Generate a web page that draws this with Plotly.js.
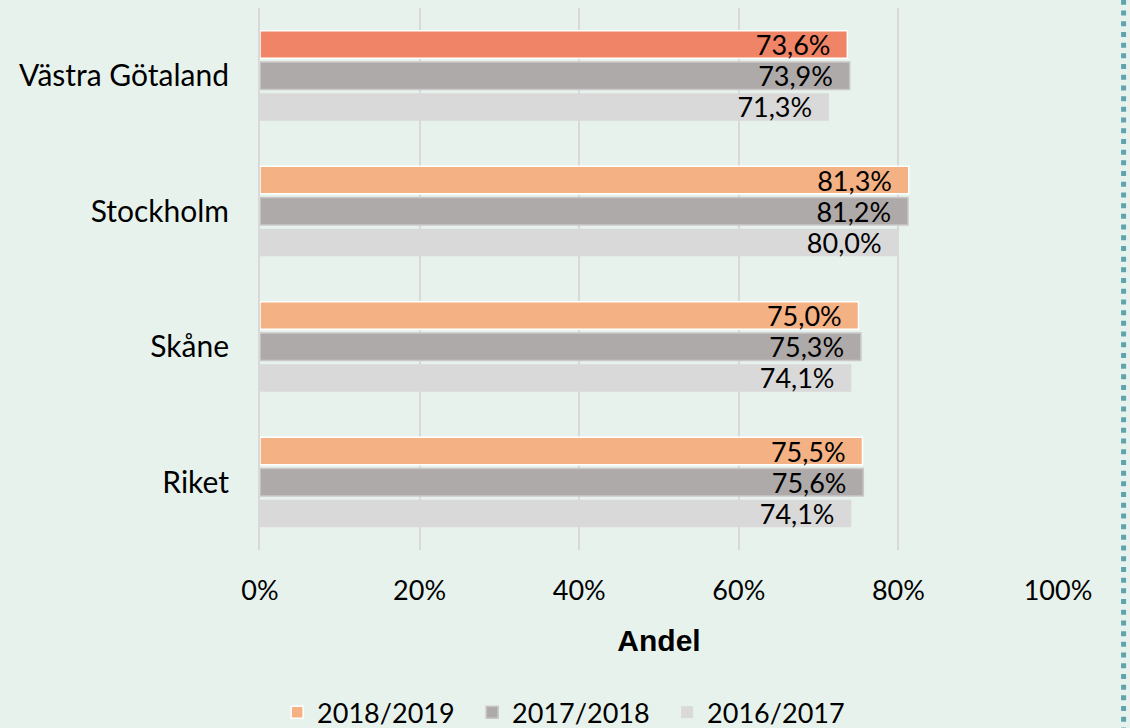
<!DOCTYPE html>
<html><head><meta charset="utf-8">
<script src="https://cdn.plot.ly/plotly-3.0.1.min.js"></script>
<style>html,body{margin:0;padding:0;background:#e8f2ed;}#chart{width:1130px;height:728px;}</style>
</head><body><div id="chart"></div>
<script>
const categories = ['Riket', 'Skåne', 'Stockholm', 'Västra Götaland'];
const s2016 = [74.1, 74.1, 80.0, 71.3];
const s2017 = [75.6, 75.3, 81.2, 73.9];
const s2018 = [75.5, 75.0, 81.3, 73.6];
const seriesNames = ['2016/2017', '2017/2018', '2018/2019'];
const xTicks = [0, 20, 40, 60, 80, 100];
const xTickText = xTicks.map(v => v + '%');

const labelFont = {family: 'Lato, sans-serif', size: 27, color: '#000'};
const common = {type: 'bar', orientation: 'h', y: categories, textposition: 'inside',
  insidetextanchor: 'end', texttemplate: '%{x:.1f}%  ', constraintext: 'none',
  textfont: labelFont, hoverinfo: 'skip'};

const traces = [
  Object.assign({}, common, {name: seriesNames[0], x: s2016,
    marker: {color: '#d9d9d9', line: {color: '#d9d9d9', width: 0}}}),
  Object.assign({}, common, {name: seriesNames[1], x: s2017,
    marker: {color: '#aeaaaa', line: {color: '#c9c7c7', width: 1.5}}}),
  Object.assign({}, common, {name: seriesNames[2], x: s2018,
    marker: {color: ['#f4b183', '#f4b183', '#f4b183', '#f08466'], line: {color: '#ffffff', width: 1.5}}})
];

const layout = {
  width: 1130, height: 728,
  paper_bgcolor: '#e8f2ed', plot_bgcolor: '#e8f2ed',
  margin: {l: 260, r: 72, t: 8, b: 178, autoexpand: false},
  separators: ', ',
  barmode: 'group', bargap: 0.31, bargroupgap: 0.12,
  font: {family: 'Lato, sans-serif', size: 27, color: '#000'},
  xaxis: {range: [0, 100], tickmode: 'array', tickvals: xTicks, ticktext: xTickText, showgrid: true,
    gridcolor: '#d9d9d9', gridwidth: 2, zeroline: false, showline: false,
    ticklabelstandoff: 22, tickfont: {size: 27}, automargin: false,
    title: {text: '<b>Andel</b>', font: {family: 'Liberation Sans, Arial, sans-serif', size: 30}, standoff: 24}},
  yaxis: {showgrid: false, zeroline: false, showline: true, linecolor: '#d9d9d9', linewidth: 2,
    ticklabelstandoff: 23, tickfont: {size: 30}, automargin: false},
  legend: {orientation: 'h', traceorder: 'reversed', x: 0.388, xanchor: 'center',
    y: -0.30, yanchor: 'middle', font: {size: 27}, itemwidth: 30,
    entrywidth: 150, entrywidthmode: 'pixels'},
  shapes: [{type: 'line', xref: 'paper', yref: 'paper', x0: 1.0822, x1: 1.0822, y0: 1.015, y1: -0.33,
    line: {color: '#5fa3ad', width: 5, dash: '5px,5.7px'}}],
  showlegend: true
};
Plotly.newPlot('chart', traces, layout, {displayModeBar: false, staticPlot: true});
</script></body></html>
